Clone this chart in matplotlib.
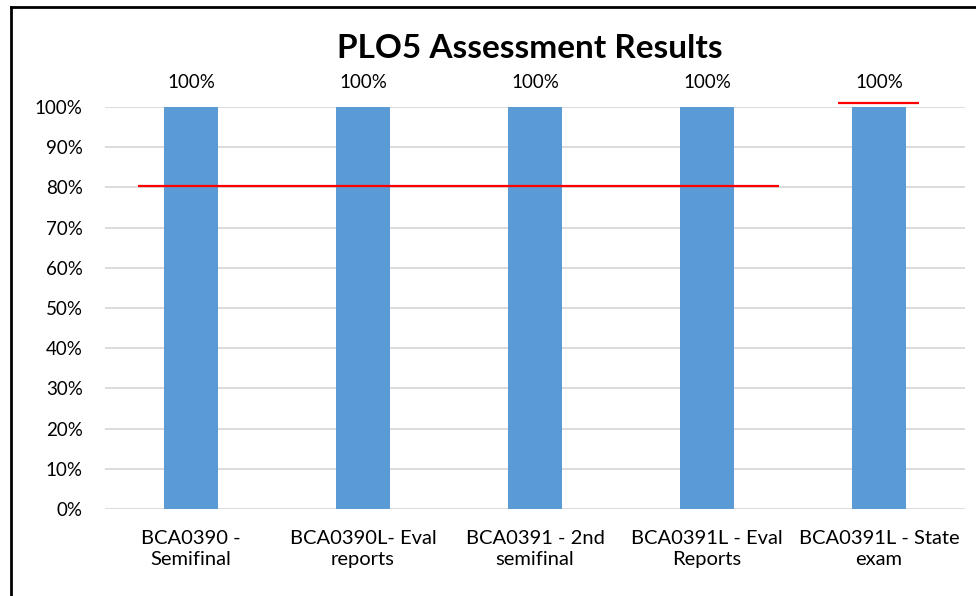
import matplotlib.pyplot as plt
from matplotlib.lines import Line2D
import numpy as np

# -----------------------------
# Data
# -----------------------------
categories = [
    "BCA0390 -\nSemifinal",
    "BCA0390L- Eval\nreports",
    "BCA0391 - 2nd\nsemifinal",
    "BCA0391L - Eval\nReports",
    "BCA0391L - State\nexam",
]
results = [100, 100, 100, 100, 100]
bar_labels = ["100%", "100%", "100%", "100%", "100%"]

# target lines (x start, x end, value)
target_main = (-0.31, 3.42, 80.4)
target_last = (3.76, 4.23, 100.9)

yticks = np.arange(0, 101, 10)

plt.rcParams['font.family'] = ['Lato', 'DejaVu Sans']

# -----------------------------
# Plot
# -----------------------------
fig = plt.figure(figsize=(9.76, 5.96), dpi=100)
ax = fig.add_axes([105/976, 1 - 509/596, 860/976, 402/596])

x = np.arange(len(categories))
ax.bar(x, results, width=0.31, color="#5B9BD5", zorder=3)

for xi, v, lab in zip(x, results, bar_labels):
    ax.text(xi, v + 4.0, lab, ha="center", va="bottom", fontsize=13.5)

ax.hlines(target_main[2], target_main[0], target_main[1], color="#FF0000",
          lw=1.6, zorder=4, clip_on=False)
ax.hlines(target_last[2], target_last[0], target_last[1], color="#FF0000",
          lw=1.6, zorder=4, clip_on=False)

ax.set_xlim(-0.5, len(categories) - 0.5)
ax.set_ylim(0, 100)
ax.set_yticks(yticks)
ax.set_yticklabels([f"{t}%" for t in yticks], fontsize=13.5)
ax.set_xticks(x)
ax.set_xticklabels(categories, fontsize=14.5, linespacing=1.3)
ax.tick_params(length=0)
ax.tick_params(axis="y", pad=16)
ax.tick_params(axis="x", pad=15)

ax.grid(axis="y", color="#D9D9D9", lw=1.3, zorder=0)
for s in ax.spines.values():
    s.set_visible(False)

fig.text(530/976, 1 - 48/596, "PLO5 Assessment Results", ha="center", va="center",
         fontsize=24, fontweight="bold")

# chart frame (left and top visible)
fig.add_artist(Line2D([11/976, 11/976], [0, 1 - 7/596], color="black", lw=2, transform=fig.transFigure))
fig.add_artist(Line2D([11/976, 1], [1 - 7/596, 1 - 7/596], color="black", lw=2, transform=fig.transFigure))

fig.savefig("out.png", dpi=100)
